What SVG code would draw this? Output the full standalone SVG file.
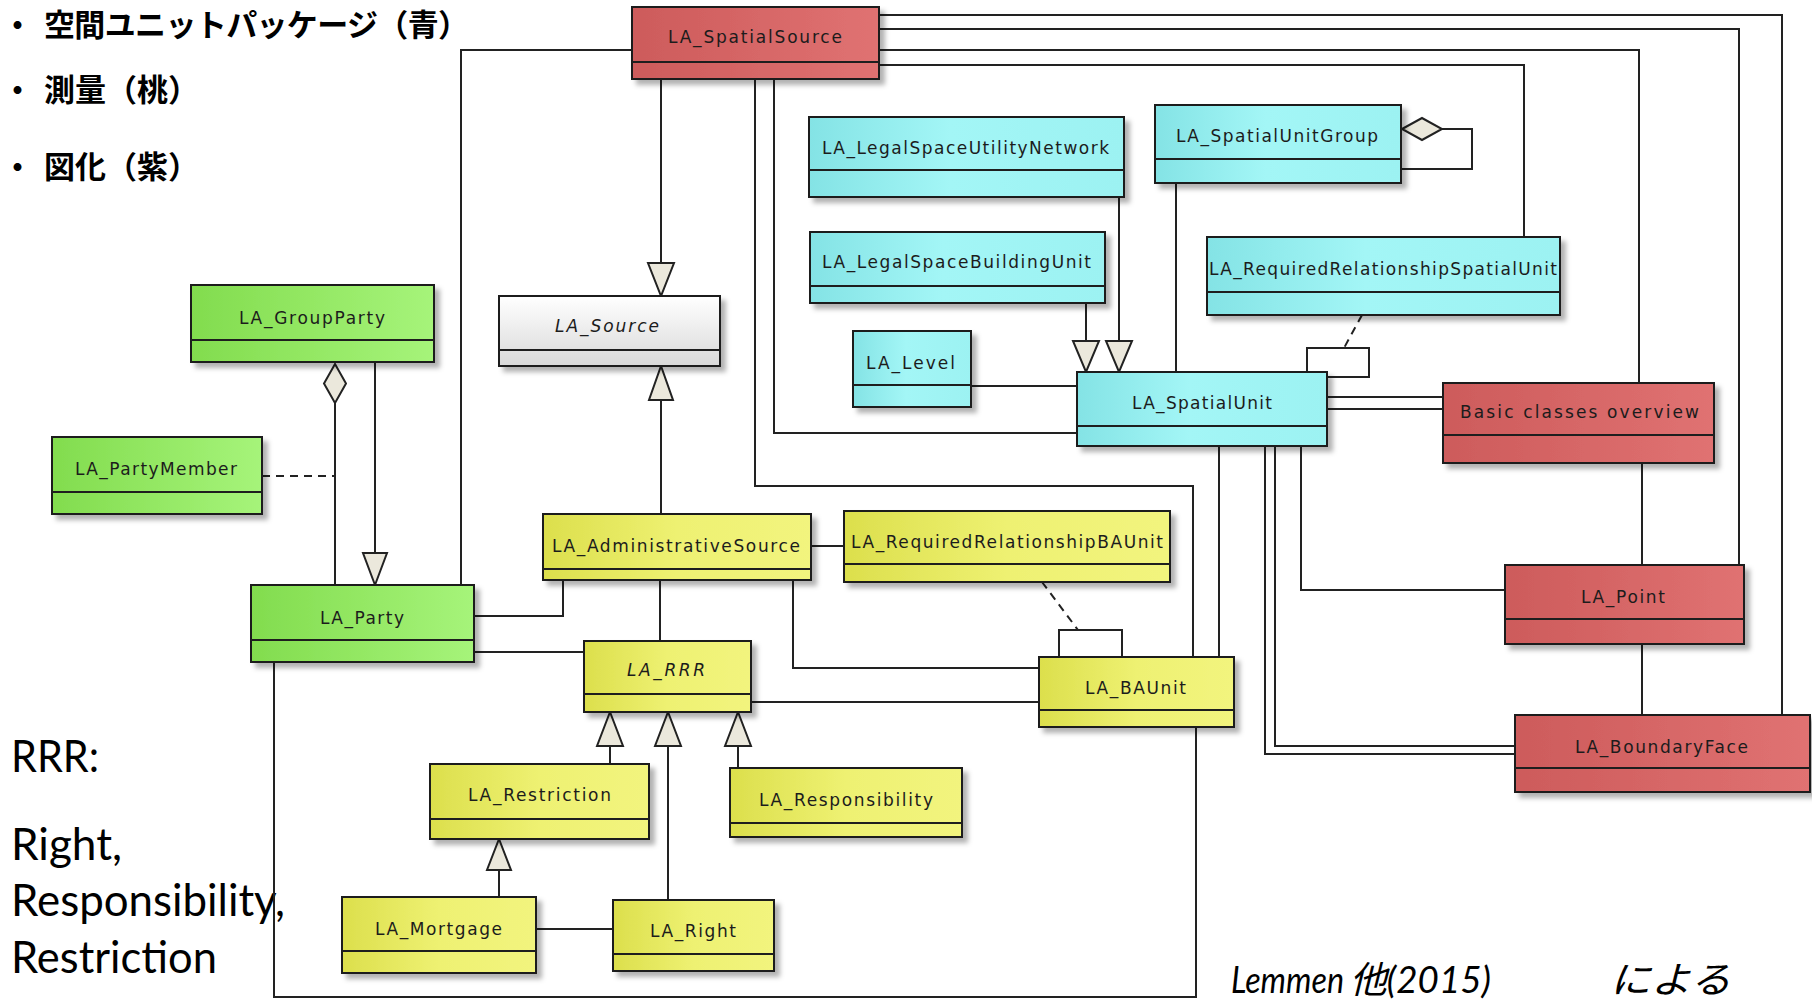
<svg xmlns="http://www.w3.org/2000/svg" width="1812" height="999" viewBox="0 0 1812 999">
  <defs>
    <linearGradient id="gRed" x1="0" y1="0" x2="1" y2="0">
      <stop offset="0" stop-color="#cd5b5b"/>
      <stop offset="1" stop-color="#e07272"/>
    </linearGradient>
    <linearGradient id="gCyan" x1="0" y1="0" x2="1" y2="0">
      <stop offset="0" stop-color="#84e3e5"/>
      <stop offset="0.45" stop-color="#a3f6f6"/>
      <stop offset="1" stop-color="#9cf2f2"/>
    </linearGradient>
    <linearGradient id="gGreen" x1="0" y1="0" x2="1" y2="0">
      <stop offset="0" stop-color="#82dc4e"/>
      <stop offset="1" stop-color="#a6f47a"/>
    </linearGradient>
    <linearGradient id="gYellow" x1="0" y1="0" x2="1" y2="0">
      <stop offset="0" stop-color="#dcdf4c"/>
      <stop offset="0.5" stop-color="#eef172"/>
      <stop offset="1" stop-color="#f2f47e"/>
    </linearGradient>
    <linearGradient id="gGray" x1="0" y1="0" x2="0" y2="1">
      <stop offset="0" stop-color="#ffffff"/>
      <stop offset="1" stop-color="#d9d9d9"/>
    </linearGradient>
    <filter id="shadow" x="-5%" y="-5%" width="115%" height="130%">
      <feDropShadow dx="5" dy="5" stdDeviation="2.5" flood-color="#000" flood-opacity="0.3"/>
    </filter>
  </defs>
  <style>
    .box { stroke: #1e1e1e; stroke-width: 2; filter: url(#shadow); }
    .div { stroke: #1e1e1e; stroke-width: 2; fill: none; }
    .lbl { font-family: "DejaVu Sans", Verdana, sans-serif; font-size: 17px; fill: #1c1c1c; }
    .it { font-style: italic; }
    .wire { fill: none; stroke: #222; stroke-width: 2; }
    .dash { stroke-dasharray: 8 6; }
    .head { fill: #ebe8dc; stroke: #222; stroke-width: 2; stroke-linejoin: miter; }
    .jp { font-family: "Noto Sans CJK JP", sans-serif; font-weight: 700; font-size: 31px; fill: #000; }
    .note { font-family: Lato, "Open Sans", sans-serif; font-size: 44px; fill: #000; }
    .cite { font-family: Lato, "Noto Sans CJK JP", sans-serif; font-style: italic; font-size: 37px; fill: #000; }
  </style>

  <rect width="1812" height="999" fill="#ffffff"/>

  <!-- package legend -->
  <g id="legend">
    <text class="jp" x="2" y="36">・</text>
    <text class="jp" x="44" y="36" textLength="425">空間ユニットパッケージ（青）</text>
    <text class="jp" x="2" y="101">・</text>
    <text class="jp" x="44" y="101">測量（桃）</text>
    <text class="jp" x="2" y="178">・</text>
    <text class="jp" x="44" y="178">図化（紫）</text>
  </g>

  <!-- RRR note -->
  <g id="rrr-note">
    <text class="note" x="11" y="772" textLength="88" lengthAdjust="spacingAndGlyphs">RRR:</text>
    <text class="note" x="11" y="860" textLength="111" lengthAdjust="spacingAndGlyphs">Right,</text>
    <text class="note" x="11" y="916" textLength="274" lengthAdjust="spacingAndGlyphs">Responsibility,</text>
    <text class="note" x="11" y="973" textLength="206" lengthAdjust="spacingAndGlyphs">Restriction</text>
  </g>

  <!-- citation -->
  <g id="citation">
    <text class="cite" x="1231" y="993" textLength="113" lengthAdjust="spacingAndGlyphs">Lemmen</text>
    <text class="cite" x="1350" y="993" textLength="141" lengthAdjust="spacingAndGlyphs">他(2015)</text>
    <text class="cite" x="1610" y="993" textLength="121" lengthAdjust="spacingAndGlyphs">による</text>
  </g>

  <!-- associations, generalizations and aggregations -->
  <g id="connectors">
    <path class="wire" d="M661,79 V263"/>
    <polygon class="head" points="648,263 674,263 661,296"/>
    <path class="wire" d="M661,514 V400"/>
    <polygon class="head" points="649,400 673,400 661,366"/>
    <path class="wire" d="M375,362 V553"/>
    <polygon class="head" points="363,553 387,553 375,585"/>
    <path class="wire" d="M335,403 V585"/>
    <polygon class="head" points="335,364 346,383.5 335,403 324,383.5"/>
    <path class="wire dash" d="M262,476 H335"/>
    <path class="wire" d="M632,50 H461 V585"/>
    <path class="wire" d="M474,616 H563 V580"/>
    <path class="wire" d="M474,652 H584"/>
    <path class="wire" d="M660,580 V641"/>
    <path class="wire" d="M811,546 H844"/>
    <path class="wire" d="M793,580 V668 H1039"/>
    <path class="wire" d="M751,702 H1039"/>
    <path class="wire dash" d="M1042,582 L1078,630"/>
    <path class="wire" d="M1059,657 V630 H1122 V657"/>
    <path class="wire" d="M274,662 V997 H1196 V727"/>
    <path class="wire" d="M755,79 V486 H1193 V657"/>
    <path class="wire" d="M774,79 V433 H1077"/>
    <path class="wire" d="M971,386 H1077"/>
    <path class="wire" d="M1086,303 V341"/>
    <polygon class="head" points="1073,341 1099,341 1086,372"/>
    <path class="wire" d="M1119,197 V341"/>
    <polygon class="head" points="1106,341 1132,341 1119,372"/>
    <path class="wire" d="M1176,183 V372"/>
    <path class="wire" d="M1442,129 H1472 V169 H1401"/>
    <polygon class="head" points="1402,129 1422,118 1442,129 1422,140"/>
    <path class="wire dash" d="M1362,315 L1344,348"/>
    <path class="wire" d="M1307,372 V348 H1369 V377 H1327"/>
    <path class="wire" d="M879,15 H1782 V715"/>
    <path class="wire" d="M879,29 H1739 V565"/>
    <path class="wire" d="M879,50 H1639 V383"/>
    <path class="wire" d="M879,65 H1524 V237"/>
    <path class="wire" d="M1327,397 H1443 M1327,409 H1443"/>
    <path class="wire" d="M1642,463 V565 M1642,644 V715"/>
    <path class="wire" d="M1219,446 V657"/>
    <path class="wire" d="M1265,446 V754 H1515"/>
    <path class="wire" d="M1275,446 V746 H1515"/>
    <path class="wire" d="M1301,446 V590 H1505"/>
    <path class="wire" d="M610,764 V746"/>
    <polygon class="head" points="597,746 623,746 610,712"/>
    <path class="wire" d="M668,900 V746"/>
    <polygon class="head" points="655,746 681,746 668,712"/>
    <path class="wire" d="M738,768 V746"/>
    <polygon class="head" points="725,746 751,746 738,712"/>
    <path class="wire" d="M499,897 V870"/>
    <polygon class="head" points="487,870 511,870 499,839"/>
    <path class="wire" d="M536,929 H613"/>
  </g>

  <!-- survey / representation classes -->
  <g id="la-spatial-source">
    <rect class="box" x="632" y="7" width="247" height="72" fill="url(#gRed)"/>
    <path class="div" d="M632,62 H879"/>
    <text class="lbl" x="668" y="43" textLength="174">LA_SpatialSource</text>
  </g>
  <g id="basic-classes-overview">
    <rect class="box" x="1443" y="383" width="271" height="80" fill="url(#gRed)"/>
    <path class="div" d="M1443,435 H1714"/>
    <text class="lbl" x="1460" y="418" textLength="239">Basic classes overview</text>
  </g>
  <g id="la-point">
    <rect class="box" x="1505" y="565" width="239" height="79" fill="url(#gRed)"/>
    <path class="div" d="M1505,619 H1744"/>
    <text class="lbl" x="1581" y="603" textLength="84">LA_Point</text>
  </g>
  <g id="la-boundary-face">
    <rect class="box" x="1515" y="715" width="295" height="77" fill="url(#gRed)"/>
    <path class="div" d="M1515,768 H1810"/>
    <text class="lbl" x="1575" y="753" textLength="173">LA_BoundaryFace</text>
  </g>

  <!-- spatial unit classes -->
  <g id="la-legal-space-utility-network">
    <rect class="box" x="809" y="117" width="315" height="80" fill="url(#gCyan)"/>
    <path class="div" d="M809,170 H1124"/>
    <text class="lbl" x="822" y="154" textLength="287">LA_LegalSpaceUtilityNetwork</text>
  </g>
  <g id="la-legal-space-building-unit">
    <rect class="box" x="810" y="232" width="295" height="71" fill="url(#gCyan)"/>
    <path class="div" d="M810,286 H1105"/>
    <text class="lbl" x="822" y="268" textLength="269">LA_LegalSpaceBuildingUnit</text>
  </g>
  <g id="la-spatial-unit-group">
    <rect class="box" x="1155" y="105" width="246" height="78" fill="url(#gCyan)"/>
    <path class="div" d="M1155,159 H1401"/>
    <text class="lbl" x="1176" y="142" textLength="202">LA_SpatialUnitGroup</text>
  </g>
  <g id="la-required-relationship-spatial-unit">
    <rect class="box" x="1207" y="237" width="353" height="78" fill="url(#gCyan)"/>
    <path class="div" d="M1207,292 H1560"/>
    <text class="lbl" x="1209" y="275" textLength="348">LA_RequiredRelationshipSpatialUnit</text>
  </g>
  <g id="la-level">
    <rect class="box" x="853" y="331" width="118" height="76" fill="url(#gCyan)"/>
    <path class="div" d="M853,385 H971"/>
    <text class="lbl" x="866" y="369" textLength="89">LA_Level</text>
  </g>
  <g id="la-spatial-unit">
    <rect class="box" x="1077" y="372" width="250" height="74" fill="url(#gCyan)"/>
    <path class="div" d="M1077,426 H1327"/>
    <text class="lbl" x="1132" y="409" textLength="140">LA_SpatialUnit</text>
  </g>

  <!-- source -->
  <g id="la-source">
    <rect class="box" x="499" y="296" width="221" height="70" fill="url(#gGray)"/>
    <path class="div" d="M499,350 H720"/>
    <text class="lbl it" x="555" y="332" textLength="104">LA_Source</text>
  </g>

  <!-- party classes -->
  <g id="la-group-party">
    <rect class="box" x="191" y="285" width="243" height="77" fill="url(#gGreen)"/>
    <path class="div" d="M191,340 H434"/>
    <text class="lbl" x="239" y="324" textLength="146">LA_GroupParty</text>
  </g>
  <g id="la-party-member">
    <rect class="box" x="52" y="437" width="210" height="77" fill="url(#gGreen)"/>
    <path class="div" d="M52,492 H262"/>
    <text class="lbl" x="75" y="475" textLength="162">LA_PartyMember</text>
  </g>
  <g id="la-party">
    <rect class="box" x="251" y="585" width="223" height="77" fill="url(#gGreen)"/>
    <path class="div" d="M251,640 H474"/>
    <text class="lbl" x="320" y="624" textLength="84">LA_Party</text>
  </g>

  <!-- administrative classes -->
  <g id="la-administrative-source">
    <rect class="box" x="543" y="514" width="268" height="66" fill="url(#gYellow)"/>
    <path class="div" d="M543,569 H811"/>
    <text class="lbl" x="552" y="552" textLength="248">LA_AdministrativeSource</text>
  </g>
  <g id="la-required-relationship-ba-unit">
    <rect class="box" x="844" y="511" width="326" height="71" fill="url(#gYellow)"/>
    <path class="div" d="M844,564 H1170"/>
    <text class="lbl" x="851" y="548" textLength="312">LA_RequiredRelationshipBAUnit</text>
  </g>
  <g id="la-rrr">
    <rect class="box" x="584" y="641" width="167" height="71" fill="url(#gYellow)"/>
    <path class="div" d="M584,694 H751"/>
    <text class="lbl it" x="627" y="676" textLength="78">LA_RRR</text>
  </g>
  <g id="la-ba-unit">
    <rect class="box" x="1039" y="657" width="195" height="70" fill="url(#gYellow)"/>
    <path class="div" d="M1039,710 H1234"/>
    <text class="lbl" x="1085" y="694" textLength="101">LA_BAUnit</text>
  </g>
  <g id="la-restriction">
    <rect class="box" x="430" y="764" width="219" height="75" fill="url(#gYellow)"/>
    <path class="div" d="M430,819 H649"/>
    <text class="lbl" x="468" y="801" textLength="143">LA_Restriction</text>
  </g>
  <g id="la-responsibility">
    <rect class="box" x="730" y="768" width="232" height="69" fill="url(#gYellow)"/>
    <path class="div" d="M730,823 H962"/>
    <text class="lbl" x="759" y="806" textLength="174">LA_Responsibility</text>
  </g>
  <g id="la-mortgage">
    <rect class="box" x="342" y="897" width="194" height="76" fill="url(#gYellow)"/>
    <path class="div" d="M342,951 H536"/>
    <text class="lbl" x="375" y="935" textLength="127">LA_Mortgage</text>
  </g>
  <g id="la-right">
    <rect class="box" x="613" y="900" width="161" height="71" fill="url(#gYellow)"/>
    <path class="div" d="M613,954 H774"/>
    <text class="lbl" x="650" y="937" textLength="86">LA_Right</text>
  </g>
</svg>
